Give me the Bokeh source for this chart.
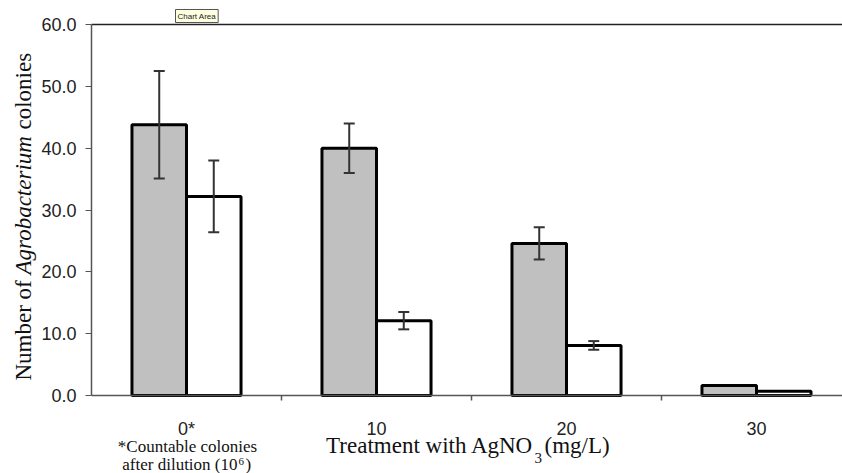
import math
from bokeh.plotting import figure
from bokeh.models import (ColumnDataSource, Range1d, FixedTicker, NumeralTickFormatter,
                          Whisker, TeeHead, Label, LinearAxis)
from bokeh.core.properties import value
from bokeh.transform import dodge
from bokeh.embed import file_html
from bokeh.resources import INLINE

# ---- data ----
doses = ["0*", "10", "20", "30"]
series_a_vals = [43.8, 40.0, 24.6, 1.6]   # grey bars
series_a_err = [8.7, 4.0, 2.6, 0.0]
series_b_vals = [32.2, 12.1, 8.1, 0.7]    # white bars
series_b_err = [5.8, 1.4, 0.7, 0.0]
y_ticks = [0, 10, 20, 30, 40, 50, 60]
Y_MAX = 60

xs = [i + 0.5 for i in range(len(doses))]
src = ColumnDataSource(dict(x=xs, a=series_a_vals, b=series_b_vals))

def err_source(vals, errs):
    keep = [i for i, e in enumerate(errs) if e > 0]
    return ColumnDataSource(dict(
        x=[xs[i] for i in keep],
        upper=[vals[i] + errs[i] for i in keep],
        lower=[vals[i] - errs[i] for i in keep]))

# ---- page layout: plot area spans x 91..842, y 24..395 of the 842x473 page ----
W, H = 842, 473
PX_L, PX_T, PX_B = 91, 24, 395
CAT_PX = 190                       # pixels per category
PPU = (PX_B - PX_T) / Y_MAX        # pixels per y unit
X_END = (W - PX_L) / CAT_PX

def tx(X):   # page pixel -> data x
    return (X - PX_L) / CAT_PX

def ty(Y):   # page pixel -> data y
    return (PX_B - Y) / PPU

p = figure(width=W, height=H, output_backend="svg", toolbar_location=None,
           x_range=Range1d(tx(0), tx(W)), y_range=Range1d(ty(H), ty(0)),
           min_border=0)
p.outline_line_color = None
p.grid.grid_line_color = None
p.background_fill_color = "white"
p.border_fill_color = "white"

BW = 0.287
off = BW / 2
p.vbar(x=dodge("x", -off, range=p.x_range), top="a", width=BW, source=src,
       fill_color="#c0c0c0", line_color="black", line_width=3)
p.vbar(x=dodge("x", off, range=p.x_range), top="b", width=BW, source=src,
       fill_color="white", line_color="black", line_width=3)

for vals, errs, o in ((series_a_vals, series_a_err, -off), (series_b_vals, series_b_err, off)):
    w = Whisker(source=err_source(vals, errs), base=dodge("x", o, range=p.x_range),
                upper="upper", lower="lower", line_color="#333333", line_width=2,
                upper_head=TeeHead(size=11, line_color="#333333", line_width=2),
                lower_head=TeeHead(size=11, line_color="#333333", line_width=2),
                level="overlay")
    p.add_layout(w)

# y axis (fixed inside the canvas)
ya = p.yaxis[0]
ya.fixed_location = 0
ya.bounds = (0, Y_MAX)
ya.ticker = FixedTicker(ticks=y_ticks)
ya.formatter = NumeralTickFormatter(format="0.0")
ya.axis_line_color = "#555555"
ya.axis_line_width = 1.5
ya.major_tick_line_color = "#555555"
ya.major_tick_out = 6
ya.major_tick_in = 0
ya.minor_tick_line_color = None
ya.major_label_text_font = "Liberation Sans"
ya.major_label_text_font_size = "18px"
ya.major_label_text_color = "#222222"
ya.major_label_standoff = 9

# x axis
xa = p.xaxis[0]
xa.fixed_location = 0
xa.bounds = (0, X_END)
xa.ticker = FixedTicker(ticks=xs, minor_ticks=[1, 2, 3])
xa.major_label_overrides = {x: d for x, d in zip(xs, doses)}
xa.axis_line_color = "#555555"
xa.axis_line_width = 1.5
xa.major_tick_line_color = None
xa.major_tick_out = 0
xa.major_tick_in = 0
xa.minor_tick_line_color = "#555555"
xa.minor_tick_line_width = 1.5
xa.minor_tick_out = 5
xa.minor_tick_in = 0
xa.major_label_text_font = "Liberation Sans"
xa.major_label_text_font_size = "18px"
xa.major_label_text_color = "#222222"
xa.major_label_standoff = 18

# top border line of the chart area
top_axis = LinearAxis(fixed_location=Y_MAX, bounds=(0, X_END), ticker=FixedTicker(ticks=[]),
                      axis_line_color="#222222", axis_line_width=1.5,
                      major_tick_line_color=None, minor_tick_line_color=None,
                      major_label_text_font_size="0px")
p.add_layout(top_axis, "above")

K = 0.34  # shift from wanted baseline to anchor, in em

def txt(t, X, Y, size, style="normal", align="left", vertical=False,
        font="Liberation Serif"):
    d = K * size
    if vertical:
        X, angle = X - d, math.pi / 2
    else:
        Y, angle = Y - d, 0.0
    p.text(x=[tx(X)], y=[ty(Y)], text=[t], text_font=value(font),
           text_font_size=f"{size}px", text_font_style=style, text_align=align,
           text_baseline="alphabetic", angle=angle, text_color="#111111")

# y axis title with italic genus name
txt("Number of", 31, 380, 23, vertical=True)
txt("Agrobacterium", 31, 274, 23, style="italic", vertical=True)
txt("colonies", 31, 129, 23, vertical=True)

# x axis title with subscript
txt("Treatment with AgNO", 533, 453, 23, align="right")
txt("3", 534, 463, 15)
txt("(mg/L)", 544, 453, 23)

# footnote
txt("*Countable colonies", 187, 451.5, 17, align="center")
txt("after dilution (10", 237, 469.5, 17, align="right")
txt("6", 238, 464.5, 11)
txt(")", 245, 469.5, 17)

# Excel "Chart Area" tooltip artefact
p.add_layout(Label(x=175, y=H - 22, x_units="screen", y_units="screen", text="Chart Area",
                   text_font="Liberation Sans", text_font_size="8px",
                   text_baseline="bottom", text_color="#222222",
                   background_fill_color="#ffffe1", border_line_color="#555555", padding=2))

open("out.html", "w").write(file_html(p, INLINE))
